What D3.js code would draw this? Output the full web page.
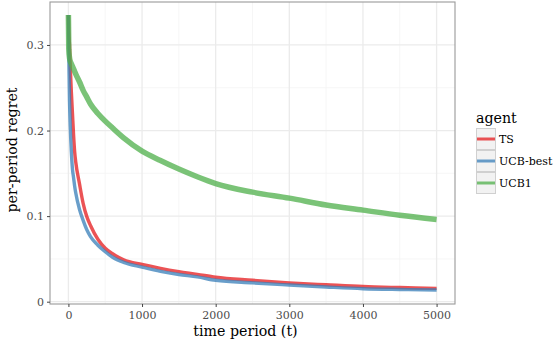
<!DOCTYPE html>
<html>
<head>
<meta charset="utf-8">
<script src="https://cdn.jsdelivr.net/npm/d3@7"></script>
<style>
  html, body { margin: 0; padding: 0; background: #fff; }
  svg { display: block; }
  svg text { font-family: 'DejaVu Serif', serif; }
</style>
</head>
<body>
<svg id="chart" width="558" height="344"></svg>
<script>
// Time periods at which the per-period regret is plotted
const timePeriods = [0, 5, 15, 25, 40, 55, 70, 85, 100, 150, 200, 250, 300, 400, 500, 600, 750,
  1000, 1250, 1500, 1750, 2000, 2500, 3000, 3500, 4000, 4500, 5000];

// Per-period regret for each agent
const regretTS = [0.335, 0.315, 0.300, 0.275, 0.245, 0.220, 0.195, 0.175, 0.163, 0.138, 0.115, 0.0994,
  0.089, 0.073, 0.0624, 0.056, 0.049, 0.0435, 0.039, 0.0352, 0.032, 0.0285, 0.025, 0.022, 0.0198,
  0.0177, 0.0165, 0.0155];
const regretUCBbest = [0.335, 0.290, 0.235, 0.205, 0.175, 0.155, 0.145, 0.135, 0.127, 0.108, 0.095,
  0.084, 0.076, 0.066, 0.0584, 0.052, 0.046, 0.0405, 0.0355, 0.0318, 0.029, 0.025, 0.022, 0.0195,
  0.0172, 0.0152, 0.0143, 0.0137];
const regretUCB1 = [0.335, 0.295, 0.285, 0.281, 0.278, 0.275, 0.272, 0.269, 0.266, 0.257, 0.247,
  0.239, 0.231, 0.220, 0.211, 0.203, 0.1915, 0.176, 0.165, 0.155, 0.146, 0.138, 0.128, 0.121, 0.113,
  0.107, 0.101, 0.096];

const agents = ["TS", "UCB-best", "UCB1"];
const agentColors = ["#E41A1C", "#377EB8", "#4DAF4A"];
const series = [regretTS, regretUCBbest, regretUCB1];

const xTicks = [0, 1000, 2000, 3000, 4000, 5000];
const xMinor = [500, 1500, 2500, 3500, 4500];
const yTicks = [0, 0.1, 0.2, 0.3];
const yMinor = [0.05, 0.15, 0.25];

const svg = d3.select("#chart");
const panel = { left: 50, right: 455, top: 2, bottom: 304 };

const x = d3.scaleLinear().domain([-250, 5250]).range([panel.left, panel.right]);
const y = d3.scaleLinear().domain([-0.0027, 0.3502]).range([panel.bottom, panel.top]);

// panel background
svg.append("rect")
  .attr("x", panel.left).attr("y", panel.top)
  .attr("width", panel.right - panel.left).attr("height", panel.bottom - panel.top)
  .attr("fill", "#fff");

// grid lines
const grid = svg.append("g");
grid.selectAll(".xminor").data(xMinor).join("line")
  .attr("x1", d => x(d)).attr("x2", d => x(d))
  .attr("y1", panel.top).attr("y2", panel.bottom)
  .attr("stroke", "#f4f4f4").attr("stroke-width", 0.8);
grid.selectAll(".yminor").data(yMinor).join("line")
  .attr("y1", d => y(d)).attr("y2", d => y(d))
  .attr("x1", panel.left).attr("x2", panel.right)
  .attr("stroke", "#f4f4f4").attr("stroke-width", 0.8);
grid.selectAll(".xmajor").data(xTicks).join("line")
  .attr("x1", d => x(d)).attr("x2", d => x(d))
  .attr("y1", panel.top).attr("y2", panel.bottom)
  .attr("stroke", "#ebebeb").attr("stroke-width", 1.3);
grid.selectAll(".ymajor").data(yTicks).join("line")
  .attr("y1", d => y(d)).attr("y2", d => y(d))
  .attr("x1", panel.left).attr("x2", panel.right)
  .attr("stroke", "#ebebeb").attr("stroke-width", 1.3);

// regret curves
const line = d3.line()
  .x((d, i) => x(timePeriods[i]))
  .y(d => y(d))
  .curve(d3.curveMonotoneX);
const widths = [3.4, 3.4, 5.5];
series.forEach((s, k) => {
  svg.append("path")
    .datum(s)
    .attr("d", line)
    .attr("fill", "none")
    .attr("stroke", agentColors[k])
    .attr("stroke-opacity", 0.75)
    .attr("stroke-width", widths[k])
    .attr("stroke-linejoin", "round");
});

// panel border
svg.append("rect")
  .attr("x", panel.left).attr("y", panel.top)
  .attr("width", panel.right - panel.left).attr("height", panel.bottom - panel.top)
  .attr("fill", "none").attr("stroke", "#9a9a9a").attr("stroke-width", 1.1);

// axes
const xAxis = d3.axisBottom(x).tickValues(xTicks).tickSize(3).tickPadding(4.5).tickFormat(d3.format("d"));
const yAxis = d3.axisLeft(y).tickValues(yTicks).tickSize(3).tickPadding(3).tickFormat(d => d === 0 ? "0" : d3.format(".1f")(d));

const gx = svg.append("g").attr("transform", `translate(0,${panel.bottom})`).call(xAxis);
const gy = svg.append("g").attr("transform", `translate(${panel.left},0)`).call(yAxis);
[gx, gy].forEach(g => {
  g.attr("font-family", null).attr("font-size", null);
  g.select(".domain").remove();
  g.selectAll(".tick line").attr("stroke", "#444");
  g.selectAll(".tick text")
    .attr("fill", "#4d4d4d")
    .style("font-family", "'DejaVu Serif', serif")
    .style("font-size", "11px");
});

// axis titles
svg.append("text")
  .attr("x", 245.5).attr("y", 336)
  .attr("text-anchor", "middle")
  .style("font-size", "14.2px").attr("fill", "#000")
  .text("time period (t)");
svg.append("text")
  .attr("transform", "translate(17,150) rotate(-90)")
  .attr("text-anchor", "middle")
  .style("font-size", "14.2px").attr("fill", "#000")
  .text("per-period regret");

// legend
const legend = svg.append("g").attr("transform", "translate(476,0)");
legend.append("text")
  .attr("x", 0).attr("y", 123)
  .style("font-size", "14.2px").attr("fill", "#000")
  .text("agent");
const keyH = 22, keyW = 20, keyTop = 128;
agents.forEach((a, i) => {
  const g = legend.append("g").attr("transform", `translate(0,${keyTop + i * keyH})`);
  g.append("rect")
    .attr("x", 0.5).attr("y", 0.5).attr("width", keyW - 1).attr("height", keyH - 1)
    .attr("fill", "#f2f2f2").attr("stroke", "#d0d0d0").attr("stroke-width", 1);
  g.append("line")
    .attr("x1", 1).attr("x2", keyW - 1)
    .attr("y1", keyH / 2).attr("y2", keyH / 2)
    .attr("stroke", agentColors[i]).attr("stroke-opacity", 0.75).attr("stroke-width", 3);
  g.append("text")
    .attr("x", keyW + 3).attr("y", keyH / 2 + 4)
    .style("font-size", "11px").attr("fill", "#000")
    .text(a);
});
</script>
</body>
</html>
